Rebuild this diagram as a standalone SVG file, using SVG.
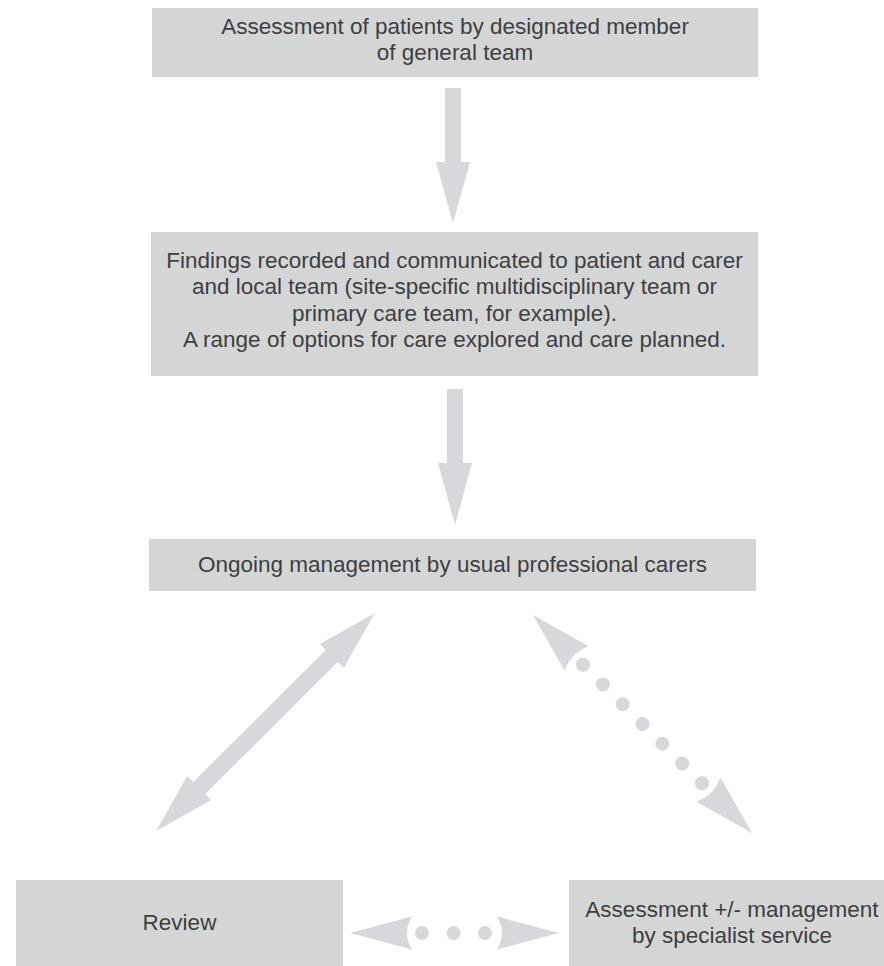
<svg xmlns="http://www.w3.org/2000/svg" width="884" height="966" viewBox="0 0 884 966">
<style>
.box{fill:#d4d6d6;}
.t{font-family:"Liberation Sans",Arial,sans-serif;font-size:22.5px;fill:#3e3e40;text-anchor:middle;}
.arr{fill:#d7d8dc;}
</style>
<rect width="884" height="966" fill="#ffffff"/>
<g id="connectors">
  <polygon class="arr" points="445,88 461,88 461,162 470,162 453,223 436,162 445,162"/>
  <polygon class="arr" points="447,389 463,389 463,463 472,463 455,525 438,463 447,463"/>
  <g transform="translate(265.5,722) rotate(-44.9)">
    <polygon class="arr" points="154.5,0 93.5,-17 93.5,-8.5 -93.5,-8.5 -93.5,-17 -154.5,0 -93.5,17 -93.5,8.5 93.5,8.5 93.5,17"/>
  </g>
  <g transform="translate(642.5,724) rotate(44.9)">
    <path class="arr" d="M-154.5 0 L-93 -17 Q-101 0 -93 17 Z"/>
    <path class="arr" d="M154.5 0 L93 -17 Q101 0 93 17 Z"/>
    <circle class="arr" cx="-84" cy="0" r="7"/>
    <circle class="arr" cx="-56" cy="0" r="7"/>
    <circle class="arr" cx="-28" cy="0" r="7"/>
    <circle class="arr" cx="0" cy="0" r="7"/>
    <circle class="arr" cx="28" cy="0" r="7"/>
    <circle class="arr" cx="56" cy="0" r="7"/>
    <circle class="arr" cx="84" cy="0" r="7"/>
  </g>
  <g>
    <path class="arr" d="M350 933 L412 916.5 Q402 933 412 949.5 Z"/>
    <path class="arr" d="M559 933 L497 916.5 Q507 933 497 949.5 Z"/>
    <circle class="arr" cx="422" cy="933" r="7"/>
    <circle class="arr" cx="453.5" cy="933" r="7"/>
    <circle class="arr" cx="485" cy="933" r="7"/>
  </g>
</g>
<g id="node-assessment">
  <rect class="box" x="152" y="8" width="606" height="69"/>
  <text class="t" x="455" y="33.5">Assessment of patients by designated member</text>
  <text class="t" x="455" y="60">of general team</text>
</g>
<g id="node-findings">
  <rect class="box" x="151" y="232" width="607" height="144"/>
  <text class="t" x="454.5" y="267.5">Findings recorded and communicated to patient and carer</text>
  <text class="t" x="454.5" y="294">and local team (site-specific multidisciplinary team or</text>
  <text class="t" x="454.5" y="320.5">primary care team, for example).</text>
  <text class="t" x="454.5" y="347">A range of options for care explored and care planned.</text>
</g>
<g id="node-ongoing">
  <rect class="box" x="149" y="539" width="607" height="52"/>
  <text class="t" x="452.5" y="572">Ongoing management by usual professional carers</text>
</g>
<g id="node-review">
  <rect class="box" x="16" y="880" width="327" height="86"/>
  <text class="t" x="179.5" y="930">Review</text>
</g>
<g id="node-specialist">
  <rect class="box" x="569" y="880" width="315" height="86"/>
  <text class="t" x="732" y="917">Assessment +/- management</text>
  <text class="t" x="732" y="943">by specialist service</text>
</g>
</svg>
